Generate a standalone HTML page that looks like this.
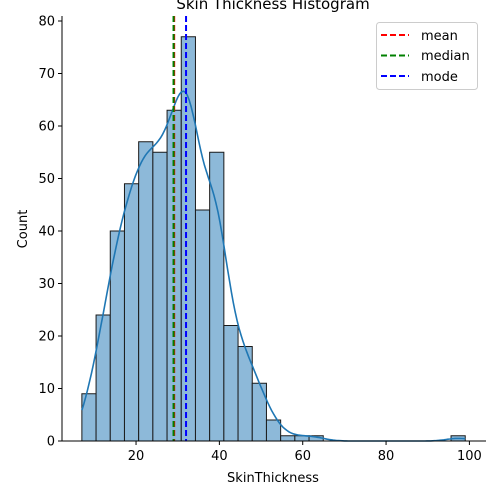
<!DOCTYPE html>
<html><head><meta charset="utf-8">
<style>
html,body{margin:0;padding:0;background:#fff;}
svg{display:block;font-family:"DejaVu Sans","Liberation Sans",sans-serif;}
</style></head>
<body>
<svg id="chart" width="500" height="500" viewBox="0 0 500 500"></svg>
<script>
const binStart = 7;
const binEnd = 99;
const counts = [9,24,40,49,57,55,63,77,44,55,22,18,11,4,1,1,1,0,0,0,0,0,0,0,0,0,1];
const xTicks = [20,40,60,80,100];
const yTicks = [0,10,20,30,40,50,60,70,80];
const meanVal = 29.15;
const medianVal = 29;
const modeVal = 32;

const NS = "http://www.w3.org/2000/svg";
const svg = document.getElementById('chart');
function el(tag, attrs, parent){ const e=document.createElementNS(NS,tag); for(const k in attrs) e.setAttribute(k,attrs[k]); (parent||svg).appendChild(e); return e; }
const x = v => 52.7 + v*4.167;
const y = v => 441 - v*5.25;
const L=62, R=486, T=16, B=441;

// bars
const nb = counts.length, bw = (binEnd-binStart)/nb;
const gBars = el('g',{});


counts.forEach((c,i)=>{
  if(c<=0) return;
  const x0=x(binStart+i*bw), x1=x(binStart+(i+1)*bw);
  const r = el('rect',{x:x0,y:y(c),width:x1-x0,height:y(0)-y(c),fill:'#8db9d9',stroke:'#1a1a1a','stroke-width':1},gBars);
  
  
});

// KDE from bin centers
let n=0, s=0, s2=0;
counts.forEach((c,i)=>{const m=binStart+(i+0.5)*bw; n+=c; s+=c*m; s2+=c*m*m;});
const mean=s/n, sd=Math.sqrt(s2/n-mean*mean), h=sd*Math.pow(n,-0.2)*0.9;
let pts=[];
for(let k=0;k<=200;k++){
  const xv=binStart+(binEnd-binStart)*k/200;
  let d=0;
  counts.forEach((c,i)=>{const m=binStart+(i+0.5)*bw; const z=(xv-m)/h; d+=c*Math.exp(-0.5*z*z);});
  d=d/(h*Math.sqrt(2*Math.PI))*bw;
  pts.push(x(xv).toFixed(1)+','+y(d).toFixed(1));
}
const kde = el('polyline',{points:pts.join(' '),fill:'none',stroke:'#1f77b4','stroke-width':1.6});



// vlines
[[meanVal,'red','mean-line'],[medianVal,'green','median-line'],[modeVal,'blue','mode-line']].forEach(([v,c,nm])=>{
  const l=el('line',{x1:x(v),x2:x(v),y1:T,y2:B,stroke:c,'stroke-width':2,'stroke-dasharray':'6,3'});
  
  
});

// axes
const ax = el('g',{});


el('line',{x1:L,x2:L,y1:T,y2:B,stroke:'#000','stroke-width':1},ax);
el('line',{x1:L,x2:R,y1:B,y2:B,stroke:'#000','stroke-width':1},ax);
xTicks.forEach(t=>{
  el('line',{x1:x(t),x2:x(t),y1:B,y2:B+4,stroke:'#000'},ax);
  const tx=el('text',{x:x(t),y:B+19,'text-anchor':'middle','font-size':13,fill:'#000'},ax);
  tx.textContent=t;
  
  
});
yTicks.forEach(t=>{
  el('line',{x1:L-4,x2:L,y1:y(t),y2:y(t),stroke:'#000'},ax);
  const tx=el('text',{x:L-7,y:y(t)+4.5,'text-anchor':'end','font-size':13,fill:'#000'},ax);
  tx.textContent=t;
  
  
});
</script>
<svg width="500" height="500" style="position:absolute;left:0;top:0">
  <text x="273" y="9" text-anchor="middle" font-size="15" font-family="DejaVu Sans, Liberation Sans, sans-serif">Skin Thickness Histogram</text>
  <text x="273" y="482" text-anchor="middle" font-size="13" font-family="DejaVu Sans, Liberation Sans, sans-serif">SkinThickness</text>
  <text x="27" y="229" text-anchor="middle" font-size="13" font-family="DejaVu Sans, Liberation Sans, sans-serif" transform="rotate(-90 27 229)">Count</text>
  <g font-family="DejaVu Sans, Liberation Sans, sans-serif" font-size="13">
    <rect x="376.5" y="22.5" width="101" height="67" rx="3" fill="#fff" fill-opacity="0.8" stroke="#ccc"/>
    <g><line x1="381" x2="409" y1="35" y2="35" stroke="red" stroke-width="2" stroke-dasharray="6,3"/><text x="421" y="40">mean</text></g>
    <g><line x1="381" x2="409" y1="55.5" y2="55.5" stroke="green" stroke-width="2" stroke-dasharray="6,3"/><text x="421" y="60">median</text></g>
    <g><line x1="381" x2="409" y1="76" y2="76" stroke="blue" stroke-width="2" stroke-dasharray="6,3"/><text x="421" y="81">mode</text></g>
  </g>
</svg>
</body></html>
